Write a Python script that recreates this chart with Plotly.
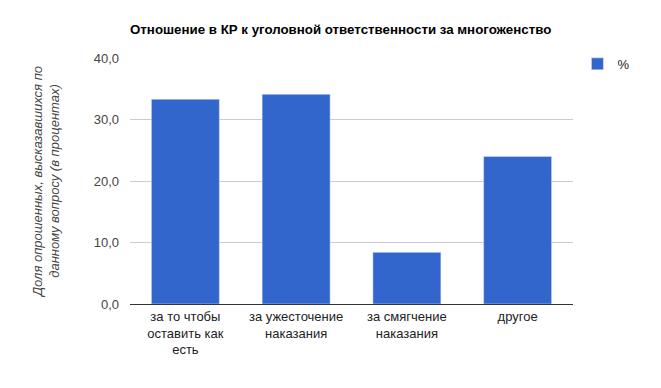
import plotly.graph_objects as go

categories = ["за то чтобы<br>оставить как<br>есть", "за ужесточение<br>наказания",
              "за смягчение<br>наказания", "другое"]
values = [33.3, 34.1, 8.4, 24.0]
series_name = "%"
tick_vals = [0, 10, 20, 30, 40]

fig = go.Figure()
fig.add_trace(go.Bar(x=categories, y=values, name=series_name, marker_color="#3366cc",
                     showlegend=True))

fnt = "Arial, Liberation Sans, sans-serif"
W, H = 653, 380
fig.update_layout(
    width=W, height=H,
    margin=dict(l=122, r=88, t=50, b=84),
    plot_bgcolor="white", paper_bgcolor="white",
    separators=", ",
    bargap=0.386,
    font=dict(family=fnt, size=13, color="#444444"),
    title=dict(text="<b>Отношение в КР к уголовной ответственности за многоженство</b>",
               x=122/W, xanchor="left", y=1-21/H, yanchor="middle",
               font=dict(family=fnt, size=13.3, color="#000000")),
    legend=dict(x=1.01, xanchor="left", y=1.037, yanchor="top",
                font=dict(family=fnt, size=13, color="#222222"),
                bgcolor="rgba(0,0,0,0)"),
    showlegend=True,
)
fig.update_yaxes(range=[0, 40], tickvals=tick_vals, tickformat=".1f", automargin=False,
                 showgrid=True, gridcolor="#cccccc", gridwidth=1, zeroline=False,
                 ticks="", ticklabelstandoff=10,
                 title=dict(text="<i>Доля опрошенных, высказавшихся по<br>данному вопросу (в процентах)</i>",
                            font=dict(family=fnt, size=13, color="#444444"), standoff=31))
fig.update_xaxes(showline=True, linecolor="#333333", linewidth=1, ticks="", automargin=False,
                 tickfont=dict(family=fnt, size=13, color="#222222"))

fig.write_html("out.html")
